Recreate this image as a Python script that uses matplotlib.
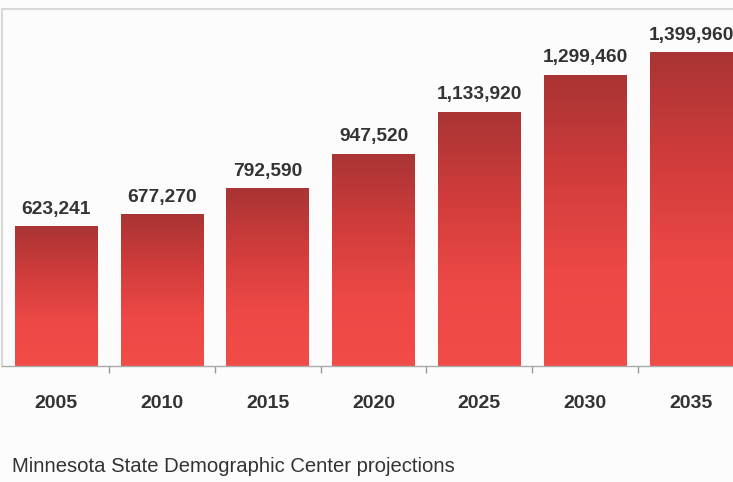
import numpy as np
import matplotlib
matplotlib.use("Agg")
import matplotlib.pyplot as plt
from matplotlib.colors import LinearSegmentedColormap

years = ["2005", "2010", "2015", "2020", "2025", "2030", "2035"]
values = [623241, 677270, 792590, 947520, 1133920, 1299460, 1399960]
value_labels = ["623,241", "677,270", "792,590", "947,520", "1,133,920", "1,299,460", "1,399,960"]

plt.rcParams['font.family'] = ['Liberation Sans', 'DejaVu Sans']

W, H = 733, 482
fig = plt.figure(figsize=(W / 100, H / 100), dpi=100)
fig.patch.set_facecolor('#fcfcfc')

left_px, right_px, top_px, bottom_px = 2, 745, 9, 366
ax = fig.add_axes([left_px / W, 1 - bottom_px / H, (right_px - left_px) / W, (bottom_px - top_px) / H])
ax.set_facecolor('#fcfcfc')

x = np.arange(len(years))

cmap = LinearSegmentedColormap.from_list('bar', ['#f24c48', '#ec4845', '#cf3c3b', '#a93434'])
grad = np.linspace(0, 1, 256).reshape(-1, 1)
bw = 0.78
bars = ax.bar(x, values, width=bw, color='none', edgecolor='none')
for b, v in zip(bars, values):
    x0 = b.get_x()
    im = ax.imshow(grad, cmap=cmap, aspect='auto', origin='lower',
                   extent=[x0, x0 + bw, 0, v], zorder=2, interpolation='bilinear')
    im.set_clip_path(b)
ax.set_xlim(-0.51, len(years) - 1 + 0.51)
ax.set_ylim(0, 1_592_000)

for xi, v, lab in zip(x, values, value_labels):
    ax.annotate(lab, (xi, v), xytext=(0, 6), textcoords='offset points',
                ha='center', va='bottom', fontsize=13.8, fontweight='bold', color='#333333')

ax.set_xticks(x)
ax.set_xticklabels(years, fontsize=14, fontweight='bold', color='#333333')
ax.tick_params(axis='x', length=0, pad=21)
ax.set_xticks(x[:-1] + 0.5, minor=True)
ax.tick_params(axis='x', which='minor', length=5, color='#999999', width=1)
ax.set_yticks([])

ax.spines['right'].set_visible(False)
ax.spines['top'].set_color('#d8d8d8')
ax.spines['left'].set_color('#d8d8d8')
ax.spines['top'].set_linewidth(1.5)
ax.spines['left'].set_linewidth(1.5)
ax.spines['bottom'].set_color('#aaaaaa')
ax.spines['bottom'].set_linewidth(1)

fig.text(12 / W, 1 - 467 / H, "Minnesota State Demographic Center projections",
         fontsize=14.6, color='#333333', ha='left', va='center')

fig.savefig('out.png', dpi=100, facecolor=fig.get_facecolor())
